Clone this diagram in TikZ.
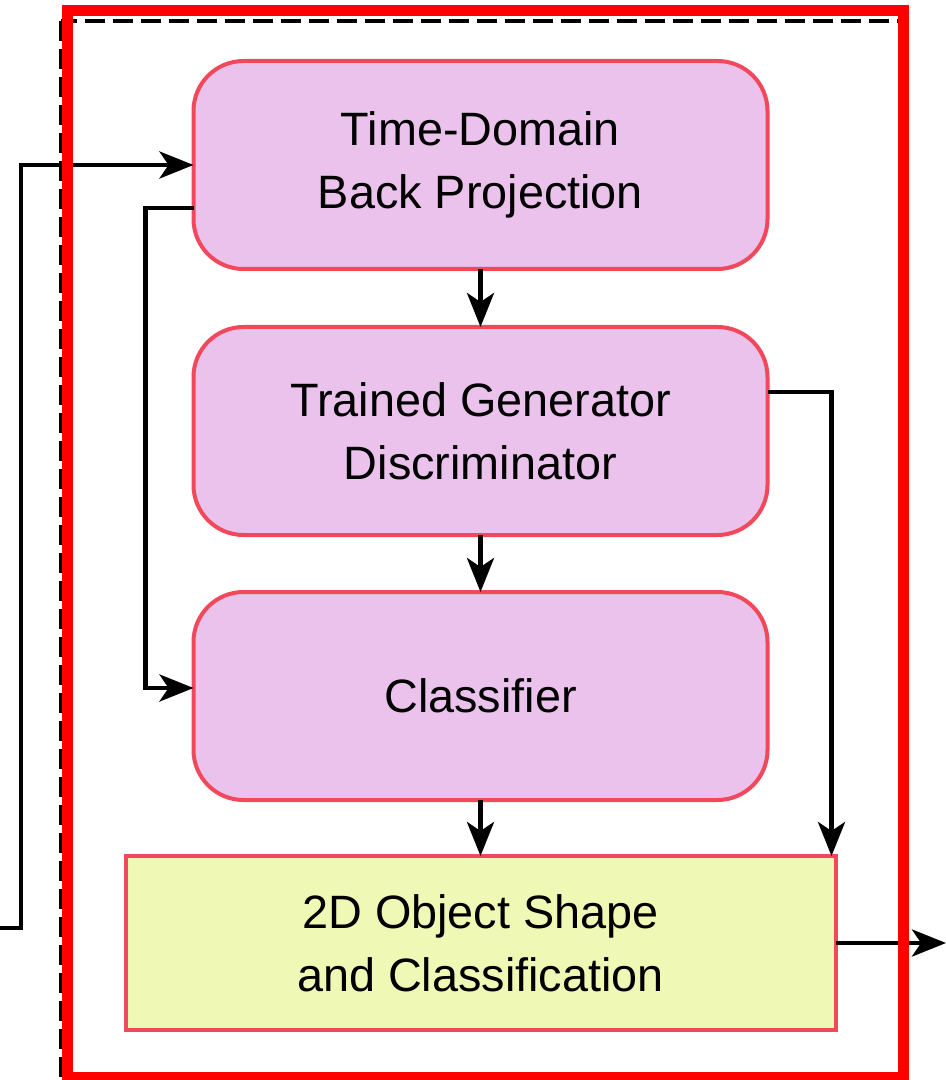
\documentclass[tikz,border=0pt]{standalone}
\usepackage{fontspec}
\setmainfont{Liberation Sans}
\usetikzlibrary{arrows.meta}
\definecolor{stagefill}{RGB}{234,194,236}
\definecolor{stageline}{RGB}{242,72,92}
\definecolor{resultfill}{RGB}{240,248,182}
\definecolor{framered}{RGB}{255,0,0}
\tikzset{
    flowpic/.style={
        x=0.5pt, y=-0.5pt,
        >={Stealth[length=17pt,width=13.5pt,inset=4.5pt]},
        line width=2.3pt, line join=miter,
    },
    stage/.style={
        draw=stageline, fill=stagefill, line width=2pt,
        rounded corners=25pt, minimum width=287pt, minimum height=104pt,
        inner sep=0pt, outer sep=0pt, align=center,
        font=\fontsize{23.4}{31.5}\selectfont,
    },
    result/.style={
        stage, fill=resultfill, rounded corners=0pt,
        minimum width=355pt, minimum height=87pt,
    },
}
\newcommand{\stagetext}[2]{#1\\#2}

\begin{document}
\begin{tikzpicture}
    [flowpic]
    \useasboundingbox (0,0) rectangle (946,1080);
    \draw[dash pattern=on 10pt off 4pt] (61,21) rectangle (902,1078);
    \node[stage] (tdbp) at (480.5,165) {\stagetext{Time-Domain}{Back Projection}};
    \node[stage] (tgd) at (480.5,431) {\stagetext{Trained Generator}{Discriminator}};
    \node[stage] (cls) at (480.5,696) {Classifier};
    \node[result] (res) at (480.5,943) {\stagetext{2D Object Shape}{and Classification}};
    \coordinate (src) at (0,928);
    \coordinate (sink) at (946,943);
    % main chain
    \draw[->] (src) -- ++(21,0) |- (tdbp.west);
    \draw[->] (tdbp) -- (tgd);
    \draw[->] (tgd) -- (cls);
    \draw[->] (cls) -- (res);
    % side paths
    \draw[->] ([yshift=-21.5pt]tdbp.west) -- ++(-48,0) |- ([yshift=4pt]cls.west);
    \draw[->] ([yshift=19.5pt]tgd.east) -| ([xshift=-2pt]res.north east);
    \draw[->] (res.east) -- (sink);
    \draw[framered, line width=5.5pt] (67,11) rectangle (903,1077);
\end{tikzpicture}
\end{document}
